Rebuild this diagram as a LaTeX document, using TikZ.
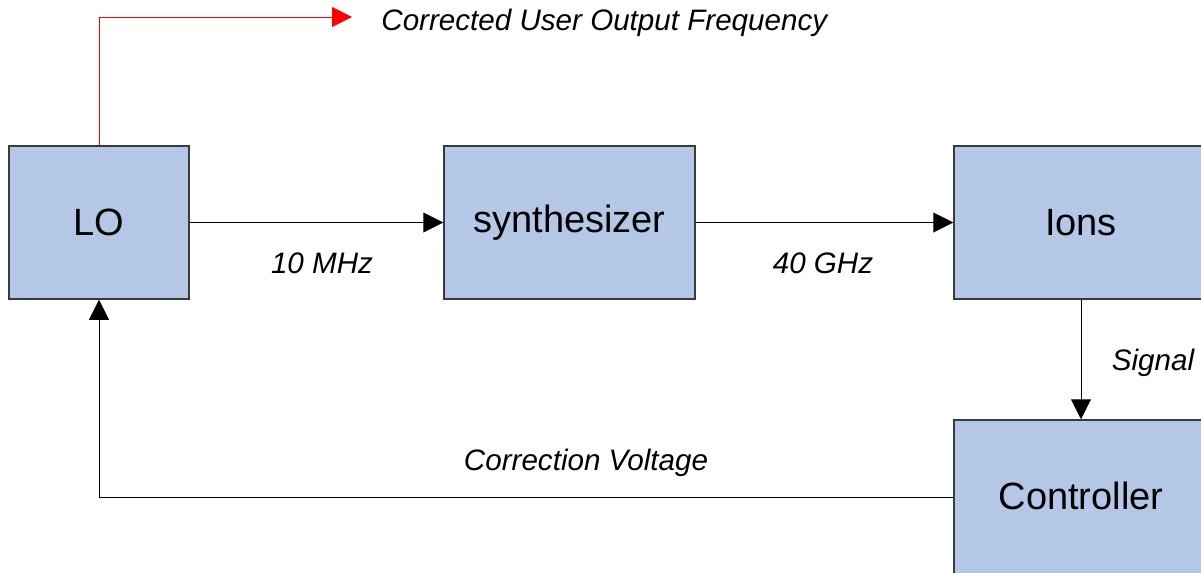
\documentclass[tikz,border=0pt]{standalone}
\usepackage{fontspec}
\setmainfont{Liberation Sans}
\usetikzlibrary{arrows.meta}
\definecolor{boxblue}{HTML}{B4C7E7}
\definecolor{boxline}{HTML}{3A3A3A}
\tikzset{
  block/.style={rectangle, draw=boxline, line width=0.75pt, fill=boxblue, inner sep=0pt, minimum height=76.5pt, font=\fontsize{19}{22}\selectfont},
  lbl/.style={font=\fontsize{14.8}{17}\selectfont\itshape, inner sep=0pt},
  link/.style={line width=0.5pt, -{Triangle[length=10pt,width=10pt]}}
}
\begin{document}
\begin{tikzpicture}[x=0.5pt, y=-0.5pt]
    \useasboundingbox (0,0) rectangle (1201,573);

    % Bloki
    \node[block, minimum width=90pt] (LO) at (99, 222.5) {LO};
    \node[block, minimum width=125.5pt] (synth) at (569.5, 222.5) {synthesizer};
    \node[block, minimum width=127pt] (ions) at (1081, 222.5) {Ions};
    \node[block, minimum width=127pt, minimum height=90pt, text depth=14pt] (ctrl) at (1081, 510) {Controller};
    \coordinate (ctrlin) at (954, 497);

    % Etykiety
    \node[lbl] (mhz) at (322, 263) {10 MHz};
    \node[lbl] (ghz) at (823, 263) {40 GHz};
    \node[lbl] (sig) at (1153, 363) {Signal};
    \node[lbl] (corr) at (586, 463) {Correction Voltage};
    \node[lbl, anchor=west] (outlbl) at (381, 23) {Corrected User Output Frequency};
    \coordinate (out) at (352, 17);

    % Połączenia
    \draw[link] (LO) -- (synth);
    \draw[link] (synth) -- (ions);
    \draw[link] (ions) -- (ctrl);
    \draw[link] (ctrlin) -| (LO.south);
    \draw[link, red] (LO.north) |- (out);
\end{tikzpicture}
\end{document}
